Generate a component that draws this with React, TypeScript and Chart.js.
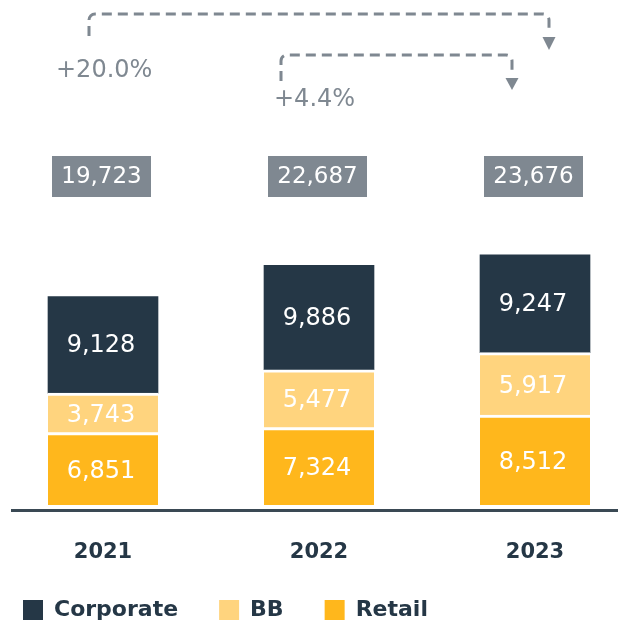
import { useEffect, useRef } from 'react';
import { Chart, registerables } from 'chart.js';

Chart.register(...registerables);

const categories = ['2021', '2022', '2023'];
const retail = [6851, 7324, 8512];
const bb = [3743, 5477, 5917];
const corporate = [9128, 9886, 9247];
const totals = [19723, 22687, 23676];
const seriesNames = ['Retail', 'BB', 'Corporate'];
// growth arrows: [from index, to index]
const growthPairs: [number, number][] = [[0, 2], [1, 2]];

const C_CORP = '#253746';
const C_BB = '#FFD47E';
const C_RETAIL = '#FFB71C';
const C_GRAY = '#7F8891';
const C_AXIS = '#3A4954';
const FONT = "'DejaVu Sans'";

const fmt = (n: number) => n.toLocaleString('en-US');
const pct = (a: number, b: number) => {
  const v = (b / a - 1) * 100;
  return (v >= 0 ? '+' : '') + v.toFixed(1) + '%';
};

const arrowStyles = [
  { dx1: -14, dx2: 14, yTop: 14, yStart: 36, lineEnd: 31, headTop: 37, tip: 50, lx: -33, ly: 77 },
  { dx1: -38, dx2: -23, yTop: 55, yStart: 81, lineEnd: 72, headTop: 78, tip: 90, lx: -7, ly: 106 },
];

const overlay = {
  id: 'overlay',
  afterDatasetsDraw(chart: any) {
    const { ctx, scales } = chart;
    const xs = scales.x;
    ctx.save();
    // segment labels
    ctx.textAlign = 'center';
    ctx.textBaseline = 'middle';
    ctx.font = `24px ${FONT}`;
    ctx.fillStyle = '#ffffff';
    chart.data.datasets.forEach((ds: any, di: number) => {
      const meta = chart.getDatasetMeta(di);
      meta.data.forEach((bar: any, i: number) => {
        const { x, y, base } = bar.getProps(['x', 'y', 'base'], true);
        const top = di === 2 ? y : y + 3;
        ctx.fillText(fmt(ds.data[i]), x - 2, (top + base) / 2 + 1);
      });
    });
    // baseline
    ctx.fillStyle = C_AXIS;
    ctx.fillRect(11, chart.chartArea.bottom + 4, chart.width - 11, 3);
    // totals boxes
    ctx.font = `23px ${FONT}`;
    totals.forEach((t, i) => {
      const cx = xs.getPixelForValue(i) - 1.5;
      ctx.fillStyle = C_GRAY;
      ctx.fillRect(cx - 49.5, 156, 99, 41);
      ctx.fillStyle = '#ffffff';
      ctx.fillText(fmt(t), cx, 177.5);
    });
    // growth arrows
    growthPairs.forEach(([a, b], k) => {
      const s = arrowStyles[k];
      const x1 = xs.getPixelForValue(a) + s.dx1;
      const x2 = xs.getPixelForValue(b) + s.dx2;
      const r = 6;
      ctx.strokeStyle = C_GRAY;
      ctx.lineWidth = 3;
      ctx.setLineDash([10, 6]);
      ctx.beginPath();
      ctx.moveTo(x1, s.yStart);
      ctx.lineTo(x1, s.yTop + r);
      ctx.arcTo(x1, s.yTop, x1 + r, s.yTop, r);
      ctx.lineTo(x2 - r, s.yTop);
      ctx.arcTo(x2, s.yTop, x2, s.yTop + r, r);
      ctx.lineTo(x2, s.lineEnd);
      ctx.stroke();
      ctx.setLineDash([]);
      ctx.fillStyle = C_GRAY;
      ctx.beginPath();
      ctx.moveTo(x2 - 6.5, s.headTop);
      ctx.lineTo(x2 + 6.5, s.headTop);
      ctx.lineTo(x2, s.tip);
      ctx.closePath();
      ctx.fill();
      ctx.font = `24px ${FONT}`;
      ctx.textAlign = 'left';
      ctx.textBaseline = 'alphabetic';
      ctx.fillText(pct(totals[a], totals[b]), x1 + s.lx, s.ly);
    });
    ctx.restore();
  },
};

export default function App() {
  const ref = useRef<HTMLCanvasElement>(null);
  useEffect(() => {
    if (!ref.current) return;
    const chart = new Chart(ref.current, {
      type: 'bar',
      data: {
        labels: categories,
        datasets: [
          {
            label: seriesNames[0], data: retail, backgroundColor: C_RETAIL,
            borderColor: '#ffffff', borderWidth: { top: 3, left: 0, right: 0, bottom: 0 }, borderSkipped: false,
          },
          {
            label: seriesNames[1], data: bb, backgroundColor: C_BB,
            borderColor: '#ffffff', borderWidth: { top: 3, left: 0, right: 0, bottom: 0 }, borderSkipped: false,
          },
          {
            label: seriesNames[2], data: corporate, backgroundColor: C_CORP, borderWidth: 0,
          },
        ] as any,
      },
      options: {
        responsive: false,
        animation: false,
        devicePixelRatio: 1,
        datasets: { bar: { barThickness: 110, clip: false as any } } as any,
        layout: { padding: { left: -18, right: 0, top: 0, bottom: -4 } },
        plugins: {
          tooltip: { enabled: false },
          legend: {
            position: 'bottom',
            align: 'start',
            reverse: true,
            labels: {
              boxWidth: 20,
              boxHeight: 20,
              padding: 41,
              color: C_CORP,
              font: { family: FONT, size: 22, weight: 'bold' },
              generateLabels: (chart: any) => {
                const items = Chart.defaults.plugins.legend.labels.generateLabels(chart);
                items.forEach((it: any) => { it.lineWidth = 0; it.strokeStyle = 'rgba(0,0,0,0)'; });
                return items;
              },
            },
          },
        },
        scales: {
          x: {
            type: 'category',
            stacked: true,
            offset: false,
            grid: { display: false, drawTicks: false },
            border: { display: false },
            ticks: {
              padding: 35,
              color: C_CORP,
              font: { family: FONT, size: 21, weight: 'bold' },
              maxRotation: 0,
              autoSkip: false,
            },
            afterFit: (s: any) => { s.height = 53; },
          },
          y: {
            stacked: true,
            min: 0,
            max: 47800,
            display: true,
            grid: { display: false, drawTicks: false },
            border: { display: false },
            ticks: { display: false },
            afterFit: (s: any) => { s.width = 121; },
          },
          yR: {
            position: 'right',
            display: true,
            grid: { display: false, drawTicks: false },
            border: { display: false },
            ticks: { display: false },
            afterFit: (s: any) => { s.width = 83; },
          },
        },
      } as any,
      plugins: [overlay],
    });
    return () => chart.destroy();
  }, []);
  return (
    <div style={{ position: 'fixed', left: 0, top: 0, width: 618, height: 627, background: '#fff' }}>
      <canvas ref={ref} width={618} height={627} style={{ display: 'block' }} />
    </div>
  );
}
